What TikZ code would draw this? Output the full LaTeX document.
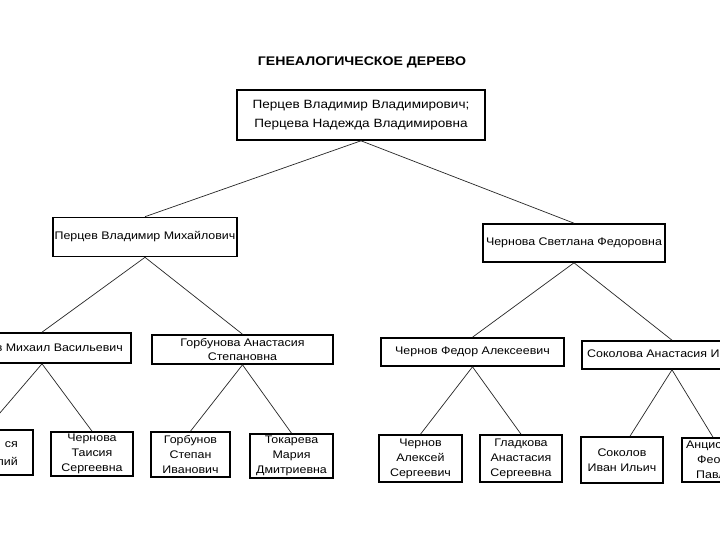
\documentclass[tikz,border=0pt]{standalone}
\usepackage{fontspec}
\setmainfont{Liberation Sans}[FakeStretch=1.13]
\begin{document}
\begin{tikzpicture}[x=1pt,y=-1pt,
  box/.style={draw=black,line width=1.6pt,fill=white,inner sep=0pt,align=center,
    font=\fontsize{11}{15}\selectfont},
  txt/.style={inner sep=0pt,font=\fontsize{11}{15}\selectfont},
  link/.style={draw=black!85,line width=0.7pt}]
\useasboundingbox (0,0) rectangle (720,540);
\clip (0,0) rectangle (720,540);
\fill[white] (0,0) rectangle (720,540);
\node[inner sep=0pt,font=\bfseries\fontsize{12.5}{15}\selectfont] (title) at (362,62) {ГЕНЕАЛОГИЧЕСКОЕ ДЕРЕВО};
% level 0
\node[box,minimum width=248,minimum height=50,font=\fontsize{12}{19}\selectfont] (root) at (361,115)
  {Перцев Владимир Владимирович;\\Перцева Надежда Владимировна};
% level 1
\node[box,minimum width=184,minimum height=39] (l1) at (145,237) {Перцев Владимир Михайлович};
\node[box,minimum width=182,minimum height=38] (r1) at (574,243) {Чернова Светлана Федоровна};
% level 2
\node[box,minimum width=178,minimum height=30] (ll) at (42,348) {};
\node[txt,anchor=east] (lltext) at (123,348) {в Михаил Васильевич};
\node[box,minimum width=181,minimum height=29,font=\fontsize{11}{14}\selectfont] (lr) at (242.5,349.5) {Горбунова Анастасия\\Степановна};
\node[box,minimum width=183,minimum height=28] (rl) at (472.5,352) {Чернов Федор Алексеевич};
\node[box,minimum width=180,minimum height=28] (rr) at (672,355) {};
\node[txt,anchor=west] (rrtext) at (587,354) {Соколова Анастасия Ив};
% level 3
\node[box,minimum width=94,minimum height=45] (b1) at (-14,452.5) {};
\node[txt,anchor=east,align=right,font=\fontsize{11}{18}\selectfont] (b1text) at (18,454) {ся\\лий};
\node[box,minimum width=82,minimum height=44] (tais) at (92,454) {Чернова\\Таисия\\Сергеевна};
\node[box,minimum width=79,minimum height=45] (gorb) at (190.5,454.5) {Горбунов\\Степан\\Иванович};
\node[box,minimum width=83,minimum height=44] (tok) at (291.5,456) {Токарева\\Мария\\Дмитриевна};
\node[box,minimum width=83,minimum height=47] (alex) at (420.5,458.5) {Чернов\\Алексей\\Сергеевич};
\node[box,minimum width=82,minimum height=47] (glad) at (521,458.5) {Гладкова\\Анастасия\\Сергеевна};
\node[box,minimum width=82,minimum height=46] (sok) at (622,460) {Соколов\\Иван Ильич};
\node[box,minimum width=62,minimum height=44] (anc) at (713,460) {};
\node[txt,anchor=west,align=left] (anctext) at (686,460) {Анцис\\\hspace*{11pt}Феод\\\hspace*{10pt}Павл};
% connectors
\draw[link] (root.south) -- (l1.north);
\draw[link] (root.south) -- (r1.north);
\draw[link] (l1.south) -- (ll.north);
\draw[link] (l1.south) -- (lr.north);
\draw[link] (r1.south) -- (rl.north);
\draw[link] (r1.south) -- (rr.north);
\draw[link] (ll.south) -- (b1.north);
\draw[link] (ll.south) -- (tais.north);
\draw[link] (lr.south) -- (gorb.north);
\draw[link] (lr.south) -- (tok.north);
\draw[link] (rl.south) -- (alex.north);
\draw[link] (rl.south) -- (glad.north);
\draw[link] (rr.south) -- ([xshift=8pt]sok.north);
\draw[link] (rr.south) -- (anc.north);
\end{tikzpicture}
\end{document}
